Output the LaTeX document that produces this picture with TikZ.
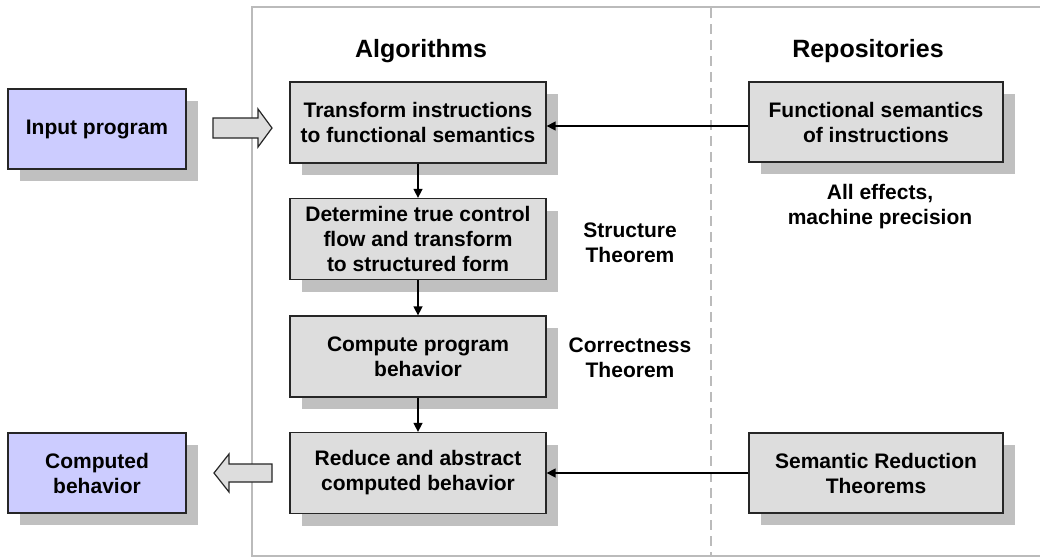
\documentclass[tikz,border=0pt]{standalone}
\usepackage{fontspec}
\setmainfont{Liberation Sans}
\usetikzlibrary{arrows.meta,shadows}
\definecolor{boxgray}{HTML}{DDDDDD}
\definecolor{shadowgray}{HTML}{C0C0C0}
\definecolor{lav}{HTML}{CCCCFF}
\definecolor{framegray}{HTML}{BBBBBB}
\begin{document}
\begin{tikzpicture}[x=1pt,y=-1pt,
  box/.style={draw=black!85, line width=1.3pt, fill=boxgray,
    minimum width=256pt, minimum height=81pt, inner sep=0pt, align=center,
    font=\bfseries\fontsize{21}{25}\selectfont,
    drop shadow={shadow xshift=12pt, shadow yshift=-12pt, fill=shadowgray, opacity=1, draw=none}},
  iobox/.style={box, fill=lav, minimum width=178pt, minimum height=80pt},
  title/.style={font=\bfseries\fontsize{25}{30}\selectfont, inner sep=0pt},
  label/.style={font=\bfseries\fontsize{21}{25}\selectfont, align=center, inner sep=0pt},
  conn/.style={line width=1.5pt, -{Triangle[length=9pt,width=9pt]}},
  hollow/.style={draw=black!85, line width=1.2pt, fill=boxgray, line join=miter},
  framel/.style={draw=framegray, line width=2pt},
]
\useasboundingbox (0,0) rectangle (1040,557);
\fill[white] (0,0) rectangle (1040,557);

% frame and separator
\draw[framel] (1042,7) -- (252,7) -- (252,556) -- (1042,556);
\draw[framel, dash pattern=on 10pt off 6pt] (711,8) -- (711,556);

% titles
\node[title, anchor=base] (alg) at (421,57) {Algorithms};
\node[title, anchor=base] (rep) at (868,57) {Repositories};

% left io boxes
\node[iobox] (inp) at (97,129) {Input program};
\node[iobox] (out) at (97,473) {Computed\\behavior};

% algorithm column
\node[box] (t1) at (418,122.5) {Transform instructions\\to functional semantics};
\node[box] (t2) at (418,239) {Determine true control\\flow and transform\\to structured form};
\node[box] (t3) at (418,356.5) {Compute program\\behavior};
\node[box] (t4) at (418,473) {Reduce and abstract\\computed behavior};

% repositories
\node[box, minimum width=254pt, minimum height=80pt] (fs) at (876,122) {Functional semantics\\of instructions};
\node[box, minimum width=254pt, minimum height=80pt] (sr) at (876,473) {Semantic Reduction\\Theorems};

% side labels
\node[label] (st) at (630,243) {Structure\\Theorem};
\node[label] (ct) at (630,358) {Correctness\\Theorem};
\node[label] (ae) at (880,206.5) {All effects,\\machine precision};

% vertical connectors
\draw[conn] (t1) -- (t2);
\draw[conn] (t2) -- (t3);
\draw[conn] (t3) -- (t4);

% horizontal connectors
\coordinate (fsin) at ([yshift=-4pt]fs.west);
\draw[conn] (fsin) -- (fsin -| t1.east);
\draw[conn] (sr) -- (t4);

% hollow arrows
\coordinate (ain) at (213,128);
\draw[hollow] (ain) ++(0,-10) -- ++(45,0) -- ++(0,-9) -- ++(14,19) -- ++(-14,19) -- ++(0,-9) -- ++(-45,0) -- cycle;
\coordinate (aout) at (272,473);
\draw[hollow] (aout) ++(0,-9) -- ++(-43,0) -- ++(0,-10) -- ++(-15,19) -- ++(15,19) -- ++(0,-10) -- ++(43,0) -- cycle;
\end{tikzpicture}
\end{document}
